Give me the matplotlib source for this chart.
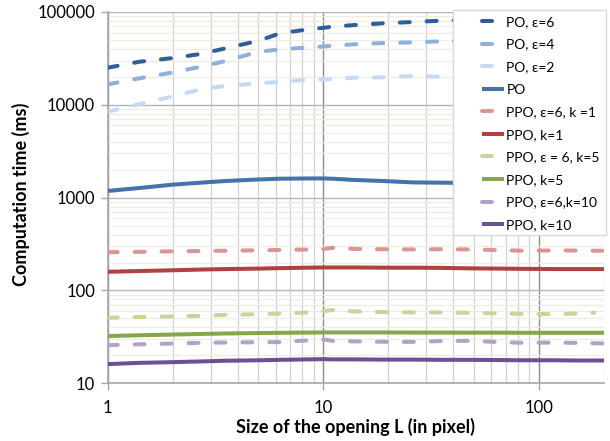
import numpy as np
import matplotlib
matplotlib.use("Agg")
import matplotlib.pyplot as plt
from matplotlib.patches import Rectangle
from matplotlib.ticker import LogLocator, FixedLocator, NullFormatter

plt.rcParams['font.family'] = ['Lato', 'DejaVu Sans']
plt.rcParams['lines.scale_dashes'] = False

# ---- data ----
x_vals = [1, 1.4, 2, 2.7, 3.5, 5, 6.3, 8.5, 10, 11, 14, 19, 26, 35, 48, 65, 85, 120, 150, 180, 200]

po_e6 = [25100, 29100, 31900, 35300, 40500, 49000, 58900, 65000, 67500, 69500, 72400, 75600,
         78000, 80600, 82000, 83000, 84000, 85000, 85500, 86000, 86000]
po_e4 = [16600, 19300, 22300, 25700, 29600, 37300, 39600, 41500, 42500, 43300, 44900, 46300,
         47100, 48300, 49000, 49500, 50000, 50500, 51000, 51000, 51000]
po_e2 = [8430, 10200, 12300, 14700, 16000, 17000, 17700, 18700, 18800, 18900, 19600, 19800,
         20400, 20100, 20300, 20400, 20500, 20500, 20500, 20500, 20500]
po = [1180, 1270, 1380, 1450, 1510, 1570, 1600, 1610, 1610, 1600, 1550, 1510,
      1460, 1450, 1440, 1430, 1420, 1410, 1400, 1400, 1400]
ppo_e6_k1 = [258, 261, 264, 266, 268, 271, 273, 276, 280, 288, 280, 278,
             277, 278, 277, 272, 268, 270, 269, 268, 268]
ppo_k1 = [159, 162, 165, 168, 170, 172, 174, 176, 177, 177, 177, 176,
          176, 175, 173, 172, 171, 170, 170, 170, 170]
ppo_e6_k5 = [50.8, 51.8, 52.5, 53.4, 54.5, 55.5, 56.5, 58, 60, 61.5, 59.5, 58.5,
             58, 58, 57.5, 56.5, 56, 55.5, 56.5, 57.6, np.nan]
ppo_k5 = [32.3, 32.9, 33.5, 34.0, 34.4, 34.8, 35.0, 35.2, 35.3, 35.3, 35.3, 35.3,
          35.2, 35.2, 35.1, 35.1, 35.0, 35.0, 35.0, 35.0, 35.0]
ppo_e6_k10 = [25.8, 26.3, 26.8, 27.3, 27.5, 27.7, 27.8, 29, 29.7, 28.7, 28.3, 28,
              27.9, 28.5, 28.7, 27.8, 27.3, 27.5, 27.2, 27.0, 26.9]
ppo_k10 = [16.1, 16.6, 16.9, 17.2, 17.5, 17.7, 17.9, 18.1, 18.2, 18.1, 18.1, 18.0,
           18.0, 17.9, 17.9, 17.8, 17.7, 17.7, 17.6, 17.6, 17.6]

labels = ["PO, \u03b5=6", "PO, \u03b5=4", "PO, \u03b5=2", "PO",
          "PPO, \u03b5=6, k =1", "PPO, k=1", "PPO, \u03b5 = 6, k=5", "PPO, k=5",
          "PPO, \u03b5=6,k=10", "PPO, k=10"]
series = [po_e6, po_e4, po_e2, po, ppo_e6_k1, ppo_k1, ppo_e6_k5, ppo_k5, ppo_e6_k10, ppo_k10]
colors = ["#2f5f98", "#8eb0d9", "#c6d9f1", "#4672ab", "#d99694", "#ad4241",
          "#c3d69b", "#86a64a", "#b3a2c7", "#6c5192"]
dashed = [True, True, True, False, True, False, True, False, True, False]

fig = plt.figure(figsize=(6.1, 4.41), dpi=100)
W, H = 610, 441
ax = fig.add_axes([107.7 / W, 1 - 383.3 / H, (604 - 107.7) / W, (383.3 - 12) / H])

lw = 2.9
for ys, lab, c, d in zip(series, labels, colors, dashed):
    if d:
        ax.plot(x_vals, ys, color=c, lw=lw, label=lab, dashes=(7.2, 12.2),
                dash_capstyle='round', solid_capstyle='round', zorder=3)
    else:
        ax.plot(x_vals, ys, color=c, lw=lw, label=lab, solid_capstyle='butt', zorder=3)

ax.set_xscale('log')
ax.set_yscale('log')
ax.set_xlim(1, 200)
ax.set_ylim(10, 100000)

ax.xaxis.set_major_locator(FixedLocator([1, 10, 100]))
ax.xaxis.set_minor_locator(LogLocator(base=10, subs=np.arange(2, 10)))
ax.yaxis.set_major_locator(FixedLocator([10, 100, 1000, 10000, 100000]))
ax.yaxis.set_minor_locator(LogLocator(base=10, subs=np.arange(2, 10)))
ax.xaxis.set_minor_formatter(NullFormatter())
ax.yaxis.set_minor_formatter(NullFormatter())
ax.set_xticklabels(["1", "10", "100"])
ax.set_yticklabels(["10", "100", "1000", "10000", "100000"])

ax.grid(which='major', axis='x', color='#8c8c8c', lw=1.0, zorder=1)
ax.grid(which='minor', axis='x', color='#d0d0d0', lw=0.9, zorder=1)
ax.grid(which='major', axis='y', color='#b4b4b4', lw=1.0, zorder=1)
ax.grid(which='minor', axis='y', color='#eeece1', lw=0.9, zorder=1)
ax.set_axisbelow(True)

for s in ['top', 'right']:
    ax.spines[s].set_visible(False)
for s in ['left', 'bottom']:
    ax.spines[s].set_color('#a6a6a6')
    ax.spines[s].set_linewidth(1.2)

ax.tick_params(which='major', direction='out', length=5, width=1, color='#a6a6a6',
               labelsize=12, labelcolor='black')
ax.tick_params(axis='y', which='major', pad=4)
ax.tick_params(axis='x', which='major', pad=7)
ax.tick_params(which='minor', length=0)

ax.set_xlabel("Size of the opening L (in pixel)", fontsize=13, fontweight='bold')
ax.set_ylabel("Computation time (ms)", fontsize=13, fontweight='bold')
ax.xaxis.set_label_coords(0.5, -0.094)
ax.yaxis.set_label_coords(-0.156, 0.51)

# legend box
box = Rectangle((453 / W, 1 - 235 / H), (606 - 453) / W, (235 - 10) / H,
                transform=fig.transFigure, facecolor='white', edgecolor='#d9d9d9',
                lw=1, zorder=4, clip_on=False)
ax.add_patch(box)
leg = ax.legend(loc='upper left', bbox_to_anchor=(482 / W, 1 - 16 / H),
                bbox_transform=fig.transFigure, frameon=False, fontsize=10,
                handlelength=1.55, handletextpad=0.2, labelspacing=0.76,
                borderaxespad=0, borderpad=0)
leg.set_zorder(5)

fig.savefig("out.png", dpi=100)
